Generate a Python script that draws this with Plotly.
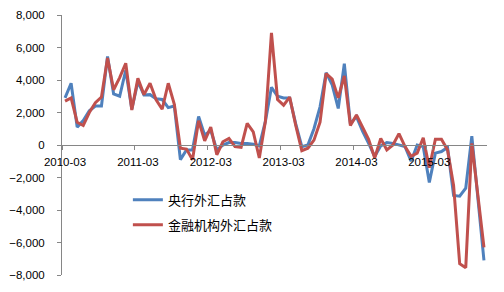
import plotly.graph_objects as go

# Months 2010-03 .. 2015-12
months = []
y, m = 2010, 3
for _ in range(70):
    months.append(f"{y}-{m:02d}")
    m += 1
    if m > 12:
        m = 1
        y += 1

pboc = [2900, 3800, 1100, 1500, 2100, 2400, 2400, 5450, 3150, 3000,
        4600, 2200, 3900, 3080, 3100, 2850, 2800, 2300, 2400, -900,
        -300, -300, 1750, 600, 900, -300, 0, 150, 150, 100,
        100, 50, -50, 1450, 3550, 3000, 2900, 2900, 1300, -100,
        0, 1000, 2350, 4450, 3700, 2250, 5000, 1300, 1750, 850,
        100, -700, -50, 150, 100, 0, -100, -1000, 0, -100,
        -2300, -500, -400, -150, -3100, -3150, -2650, 550, -3200, -7100]

fin = [2700, 2900, 1400, 1200, 2000, 2600, 2950, 5350, 3400, 4150,
       5030, 2150, 4100, 3100, 3800, 2780, 2200, 3800, 2500, -200,
       -250, -900, 1500, 250, 1100, -600, 200, 400, -100, -150,
       1330, 800, -800, 1450, 6900, 2800, 2450, 2950, 1200, -350,
       -200, 300, 1400, 4400, 4050, 2900, 4250, 1200, 1850, 1100,
       350, -800, 400, -300, 0, 700, -100, -700, -500, 450,
       -1400, 350, 350, -300, -2500, -7300, -7550, 100, -3000, -6300]

ytick_vals = [-8000, -6000, -4000, -2000, 0, 2000, 4000, 6000, 8000]
xtick_labels = ["2010-03", "2011-03", "2012-03", "2013-03", "2014-03", "2015-03"]

series_names = ["央行外汇占款", "金融机构外汇占款"]
colors = ["#4F81BD", "#C0504D"]

fig = go.Figure()
for name, vals, col in zip(series_names, [pboc, fin], colors):
    fig.add_trace(go.Scatter(x=months, y=vals, mode="lines", name=name,
                             legendgroup=name,
                             line=dict(color=col, width=3)))

axis_font = dict(family="Liberation Sans, Arial, sans-serif", size=11.5, color="#000000")

fig.update_layout(
    width=504, height=292,
    margin=dict(l=62, r=17, t=15, b=17, autoexpand=False),
    paper_bgcolor="white", plot_bgcolor="white",
    showlegend=True,
    legend=dict(x=0.155, y=0.347, xanchor="left", yanchor="top",
                traceorder="grouped", tracegroupgap=5,
                font=dict(family="Noto Sans CJK SC", size=13, color="#000000"),
                bgcolor="rgba(0,0,0,0)"),
    xaxis=dict(type="category", range=[-0.5, 69.5], automargin=False,
               tickmode="array", tickvals=xtick_labels, ticktext=xtick_labels,
               tickson="boundaries", ticks="outside", ticklen=4,
               tickangle=0, ticklabelstandoff=6,
               tickcolor="#868686", showline=True, linecolor="#868686",
               linewidth=1, showgrid=False, zeroline=False,
               anchor="free", position=0.5, tickfont=axis_font),
    yaxis=dict(range=[-8000, 8000], tickvals=ytick_vals, tickformat=",",
               automargin=False,
               ticks="outside", ticklen=4, tickcolor="#868686",
               showline=True, linecolor="#868686", linewidth=1,
               showgrid=False, zeroline=False, tickfont=axis_font,
               ticklabelstandoff=10),
)

fig.write_html("out.html")
